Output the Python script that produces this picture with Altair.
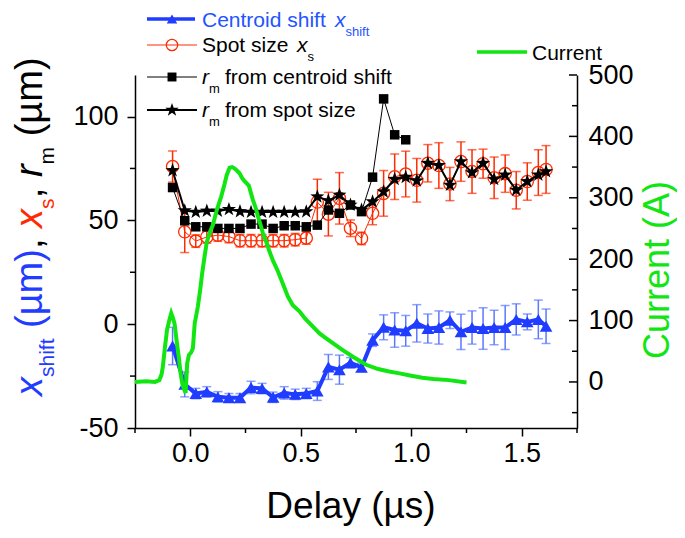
import altair as alt
import pandas as pd

FONT = "Liberation Sans"

# ---------------- data ----------------
delay = [-0.08, -0.025, 0.025, 0.075, 0.125, 0.175, 0.225, 0.275, 0.325, 0.375, 0.425,
         0.475, 0.525, 0.575, 0.625, 0.675, 0.725, 0.775, 0.825, 0.875, 0.925, 0.975,
         1.025, 1.075, 1.125, 1.175, 1.225, 1.275, 1.325, 1.375, 1.425, 1.475, 1.525,
         1.575, 1.61]

shift = [-10.5, -29, -33.4, -32.6, -35, -35.4, -35.4, -30.5, -31, -35.2, -33.1,
         -33.8, -33.4, -32.2, -20.6, -21.9, -18.6, -20.8, -7.7, -1.5, -2.8, -3.2,
         0.4, -2.1, -1.6, 1.9, -3.7, -1.6, -2.1, -1.6, -1.6, 2.3, 1.1,
         2.3, -1.0]
shift_err = [9, 6, 2.5, 2.5, 2.5, 2, 2, 3, 2.5, 2.5, 3,
             2.5, 2.5, 4.5, 6, 7, 2.5, 2, 3, 6, 8.3, 7.4,
             9, 7, 8, 4, 8.5, 8, 10, 8.3, 10.6, 7.5, 3.8,
             9.3, 8.3]

spot = [75.9, 44.5, 40, 42, 42.9, 42.2, 40.2, 40.2, 40.2, 40.2, 40.2,
        40.7, 41.5, 58.8, 53, 60.6, 46.2, 41.3, 53.4, 63, 71, 72.3,
        69.3, 77.5, 76.4, 67.5, 78.3, 73.5, 77.3, 70.5, 72.5, 64.5, 68.7,
        73, 74.5]
spot_err = [7.5, 10, 3, 3, 3, 3, 3, 3, 3, 3, 3,
            3, 3, 11, 10.5, 12.4, 4, 3, 5.5, 11, 11, 11,
            10.5, 9, 11, 8, 9.5, 10.5, 7, 10, 9, 9, 9,
            11, 11.5]

rm_centroid_delay = delay[:22]
rm_centroid = [65.8, 49.8, 46.9, 46.9, 46.1, 46.1, 46.1, 48.2, 48.2, 46.1, 47.4,
               47.4, 46.9, 47.7, 55, 53.4, 57.4, 54.2, 70.8, 108.5, 91.2, 88.8]

rm_spot = [74, 54.7, 54, 54.5, 54.5, 55.3, 54.3, 54, 54, 54, 54,
           54, 54.2, 61.4, 59.5, 62.2, 57.4, 55, 59, 63.8, 69.8, 70.8,
           69.1, 77.5, 76.5, 67, 78.3, 73, 77.5, 69.8, 71.9, 64.6, 68.7,
           71.9, 73.5]

cur_t = [-0.25, -0.2, -0.16, -0.14, -0.13, -0.124, -0.115, -0.105, -0.095, -0.086,
         -0.078, -0.071, -0.062, -0.052, -0.044, -0.036, -0.028, -0.021, -0.014, -0.006,
         0.004, 0.012, 0.02, 0.034, 0.045, 0.054, 0.065, 0.075, 0.09, 0.102,
         0.12, 0.14, 0.155, 0.165, 0.178, 0.19, 0.2, 0.212, 0.223, 0.235,
         0.246, 0.265, 0.283, 0.295, 0.306, 0.318, 0.329, 0.344, 0.359, 0.374,
         0.397, 0.419, 0.442, 0.464, 0.494, 0.52, 0.555, 0.585, 0.615, 0.65,
         0.69, 0.736, 0.796, 0.85, 0.9, 0.947, 1.0, 1.05, 1.1, 1.17, 1.25]
cur_a = [0, 1, 0, 3, 12, 25, 55, 85, 100, 112,
         104, 95, 68, 41, 15, -3, -12, -18, 30, 44,
         48, 55, 95, 122, 150, 177, 205, 228, 245, 255,
         280, 302, 322, 337, 349, 350, 348, 344, 340, 332,
         327, 320, 297, 285, 270, 256, 242, 228, 212, 198,
         180, 160, 139, 125, 115, 103, 90, 79, 71, 62,
         52, 41, 28, 21, 17, 14, 10, 7, 5, 3, -1]

x_major = [0, 0.5, 1.0, 1.5]
x_minor = [-0.25, 0.25, 0.75, 1.25, 1.75]
yl_major = [-50, 0, 50, 100]
yl_minor = [-25, 25, 75]
yr_major = [0, 100, 200, 300, 400, 500]
yr_minor = [-50, 50, 150, 250, 350, 450]

BLUE = "#1f3cff"
BLUE_ERR = "#5a78ff"
RED = "#ff2a00"
GREEN = "#12e612"
STAR = ("M0,-1L0.235,-0.324L0.951,-0.309L0.380,0.124L0.588,0.809L0,0.4"
        "L-0.588,0.809L-0.380,0.124L-0.951,-0.309L-0.235,-0.324Z")

W, H = 442, 353

# ---------------- tables ----------------
df_shift = pd.DataFrame({"x": delay, "y": shift,
                         "lo": [a - b for a, b in zip(shift, shift_err)],
                         "hi": [a + b for a, b in zip(shift, shift_err)]})
df_spot = pd.DataFrame({"x": delay, "y": spot,
                        "lo": [a - b for a, b in zip(spot, spot_err)],
                        "hi": [a + b for a, b in zip(spot, spot_err)]})
df_rmc = pd.DataFrame({"x": rm_centroid_delay, "y": rm_centroid})
df_rms = pd.DataFrame({"x": delay, "y": rm_spot})
df_cur = pd.DataFrame({"x": cur_t, "y": cur_a})
one = pd.DataFrame({"k": [0]})

# ---------------- scales / axes ----------------
xscale = alt.Scale(domain=[-0.25, 1.75], nice=False, zero=False)
xaxis = alt.Axis(values=x_major, format=".1f", tickSize=8, labelPadding=4,
                 labelOverlap=False, labelFlush=False)
yl_scale = alt.Scale(domain=[-50, 120], nice=False, zero=False)
yl_axis = alt.Axis(values=yl_major, labelExpr="'' + datum.value", tickSize=8,
                   labelPadding=9, labelOverlap=False, labelFlush=False)
yr_scale = alt.Scale(domain=[-75, 500], nice=False, zero=False)
yr_axis = alt.Axis(orient="right", values=yr_major, labelExpr="'' + datum.value",
                   ticks=False, labelPadding=11, labelOverlap=False, labelFlush=False)

X = alt.X("x:Q", scale=xscale, axis=xaxis, title=None)
YL = alt.Y("y:Q", scale=yl_scale, axis=yl_axis, title=None)
YR = alt.Y("y:Q", scale=yr_scale, axis=yr_axis, title=None)


def errbars(df, color, cap):
    base = alt.Chart(df)
    r = base.mark_rule(color=color, strokeWidth=1.5).encode(
        x=X, y=alt.Y("lo:Q", scale=yl_scale, axis=yl_axis, title=None), y2="hi:Q")
    t1 = base.mark_tick(color=color, orient="horizontal", size=cap, thickness=1.5).encode(
        x=X, y=alt.Y("lo:Q", scale=yl_scale, axis=yl_axis, title=None))
    t2 = base.mark_tick(color=color, orient="horizontal", size=cap, thickness=1.5).encode(
        x=X, y=alt.Y("hi:Q", scale=yl_scale, axis=yl_axis, title=None))
    return [r, t1, t2]


def txt(s, x, y, size, color="black", style="normal", angle=0):
    return alt.Chart(one).mark_text(
        text=s, font=FONT, fontSize=size, fontStyle=style, color=color,
        angle=angle, align="left", baseline="alphabetic").encode(
        x=alt.value(x), y=alt.value(y))


def hline(x1, x2, y, color, width):
    return alt.Chart(one).mark_rule(color=color, strokeWidth=width).encode(
        x=alt.value(x1), x2=alt.value(x2), y=alt.value(y))


def sym(x, y, shape, size, color, filled=True, sw=1.2):
    return alt.Chart(one).mark_point(
        shape=shape, size=size, filled=filled, color=color, opacity=1,
        strokeWidth=sw).encode(x=alt.value(x), y=alt.value(y))


left_layers = []
# blue centroid shift
left_layers += errbars(df_shift, BLUE_ERR, 9)
left_layers.append(alt.Chart(df_shift).mark_line(color=BLUE, strokeWidth=4).encode(x=X, y=YL))
left_layers.append(alt.Chart(df_shift).mark_point(shape="triangle-up", size=160, filled=True,
                                                  color=BLUE, opacity=1).encode(x=X, y=YL))
# red spot size
left_layers += errbars(df_spot, RED, 9)
left_layers.append(alt.Chart(df_spot).mark_line(color=RED, strokeWidth=1).encode(x=X, y=YL))
left_layers.append(alt.Chart(df_spot).mark_point(shape="circle", size=150, filled=False,
                                                 color=RED, opacity=1, strokeWidth=1.3).encode(x=X, y=YL))
# black squares
left_layers.append(alt.Chart(df_rmc).mark_line(color="black", strokeWidth=1).encode(x=X, y=YL))
left_layers.append(alt.Chart(df_rmc).mark_point(shape="square", size=90, filled=True,
                                                color="black", opacity=1).encode(x=X, y=YL))
# black stars
left_layers.append(alt.Chart(df_rms).mark_line(color="black", strokeWidth=2).encode(x=X, y=YL))
left_layers.append(alt.Chart(df_rms).mark_point(shape=STAR, size=220, filled=True,
                                                color="black", opacity=1).encode(x=X, y=YL))

# minor ticks (left, bottom)
left_layers.append(alt.Chart(pd.DataFrame({"y": yl_minor})).mark_rule(
    color="black", strokeWidth=1.5).encode(x=alt.value(0), x2=alt.value(-5), y=YL))
left_layers.append(alt.Chart(pd.DataFrame({"x": x_minor})).mark_rule(
    color="black", strokeWidth=1.5).encode(x=X, y=alt.value(H), y2=alt.value(H + 5)))

# legend
left_layers += [
    hline(12, 60, -56, BLUE, 3.5), sym(37, -56, "triangle-up", 110, BLUE),
    txt("Centroid shift", 67, -48, 21, "#2255ff"),
    txt("x", 200, -48, 21, "#2255ff", "italic"),
    txt("shift", 210.5, -39.5, 13, "#2255ff"),
    hline(12, 62, -30, RED, 1), sym(37, -30, "circle", 130, RED, False, 1.2),
    txt("Spot size", 67, -23, 21), txt("x", 162, -23, 21, "black", "italic"),
    txt("s", 172.5, -14.5, 13),
    hline(12, 62, 2, "black", 1), sym(37, 2, "square", 80, "black"),
    txt("r", 67, 9, 21, "black", "italic"), txt("m", 74, 18, 13),
    txt("from centroid shift", 90, 9, 21),
    hline(12, 62, 35, "black", 2), sym(37, 35, STAR, 200, "black"),
    txt("r", 67, 42, 21, "black", "italic"), txt("m", 74, 51, 13),
    txt("from spot size", 90, 42, 21),
    hline(342, 392, -23, GREEN, 3.5),
    txt("Current", 397, -15, 21),
]

# axis titles
XB, XS = -93.5, -81
left_layers += [
    txt("x", XB, 321, 38, BLUE, "italic", 270),
    txt("shift", XS, 302, 21, BLUE, "normal", 270),
    txt("(µm)", XB, 253, 38, BLUE, "normal", 270),
    txt(",", XB, 174, 38, "black", "normal", 270),
    txt("x", XB, 153, 38, RED, "italic", 270),
    txt("s", XS, 134, 21, RED, "normal", 270),
    txt(",", XB, 123.3, 38, "black", "normal", 270),
    txt("r", XB, 102, 38, "black", "italic", 270),
    txt("m", XS, 89.4, 21, "black", "normal", 270),
    txt("(µm)", XB, 61.3, 38, "black", "normal", 270),
    alt.Chart(one).mark_text(text="Delay (µs)", font=FONT, fontSize=37, color="black",
                             align="center", baseline="alphabetic").encode(
        x=alt.value(216), y=alt.value(443)),
    txt("Current (A)", 534, 284, 36, GREEN, "normal", 270),
]

left = alt.layer(*left_layers)

right_layers = [
    alt.Chart(pd.DataFrame({"y": yr_major})).mark_rule(color="black", strokeWidth=1.5).encode(
        x=alt.value(W), x2=alt.value(W - 8), y=YR),
    alt.Chart(pd.DataFrame({"y": yr_minor})).mark_rule(color="black", strokeWidth=1.5).encode(
        x=alt.value(W), x2=alt.value(W - 5), y=YR),
    alt.Chart(df_cur).mark_line(color=GREEN, strokeWidth=4).encode(x=X, y=YR),
]
right = alt.layer(*right_layers)

chart = alt.layer(left, right).resolve_scale(y="independent").properties(
    width=W, height=H,
    autosize=alt.AutoSizeParams(type="none"),
    padding={"left": 127, "top": 67, "right": 100, "bottom": 102},
).configure_view(stroke=None).configure_axis(
    labelFont=FONT, labelFontSize=27, labelColor="black",
    domainColor="black", domainWidth=1.5, tickColor="black", tickWidth=1.5, grid=False,
)

chart.save("out.html", embed_options={"renderer": "svg", "actions": False})
